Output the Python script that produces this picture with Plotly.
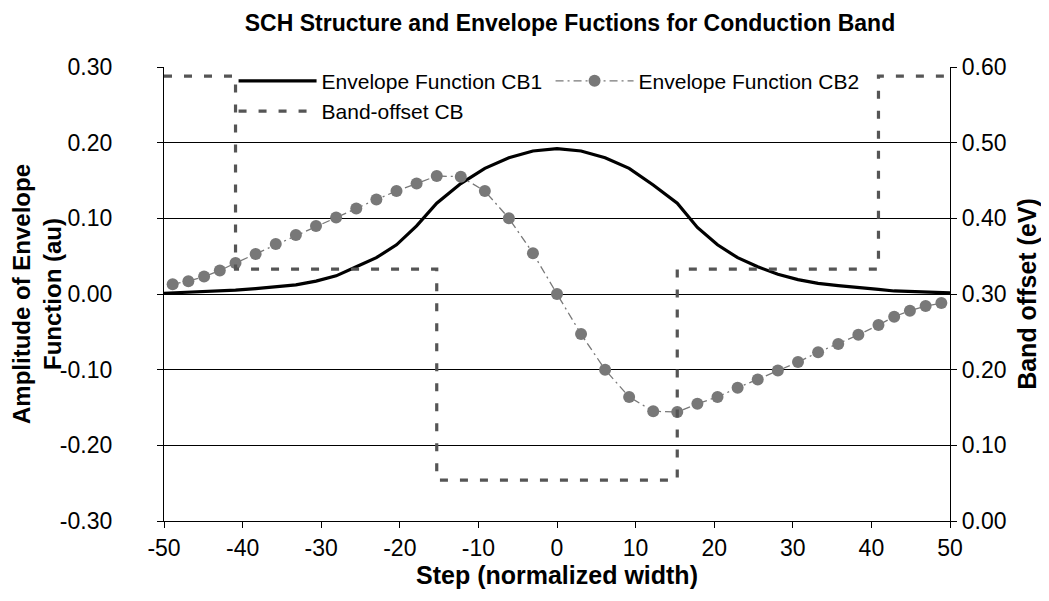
import plotly.graph_objects as go

# ---- data ----
step_x = [-48.9, -46.9, -44.9, -42.9, -40.9, -38.34, -35.78, -33.22, -30.66, -28.1,
          -25.54, -22.98, -20.42, -17.86, -15.3, -12.24, -9.18, -6.12, -3.06, 0.0,
          3.06, 6.12, 9.18, 12.24, 15.3, 17.86, 20.42, 22.98, 25.54, 28.1,
          30.66, 33.22, 35.78, 38.34, 40.9, 42.9, 44.9, 46.9, 48.9]

cb1_x = [-50.0] + step_x + [50.0]
cb1_y = [0.001, 0.0015, 0.002, 0.003, 0.004, 0.005, 0.007, 0.009, 0.012, 0.017, 0.024,
         0.036, 0.048, 0.065, 0.090, 0.120, 0.146, 0.166, 0.180, 0.189, 0.192,
         0.189, 0.180, 0.166, 0.144, 0.120, 0.088, 0.065, 0.048, 0.036, 0.026,
         0.019, 0.014, 0.011, 0.008, 0.006, 0.004, 0.0035, 0.0025, 0.002, 0.0015]

cb2_y = [0.013, 0.017, 0.023, 0.031, 0.041, 0.053, 0.066, 0.078, 0.090, 0.101,
         0.113, 0.125, 0.136, 0.146, 0.156, 0.155, 0.136, 0.100, 0.054, 0.000,
         -0.053, -0.100, -0.136, -0.155, -0.156, -0.145, -0.136, -0.124, -0.113, -0.101,
         -0.090, -0.077, -0.066, -0.054, -0.041, -0.030, -0.022, -0.016, -0.012]

band_x = [-50.0, -40.9, -15.3, 15.3, 40.9, 50.0]
band_eV = [0.588, 0.333, 0.054, 0.333, 0.588, 0.588]

x_ticks = [-50, -40, -30, -20, -10, 0, 10, 20, 30, 40, 50]
x_ticktext = ["-50", "-40", "-30", "-20", "-10", "0", "10", "20", "30", "40", "50"]
y_ticks = [-0.3, -0.2, -0.1, 0.0, 0.1, 0.2, 0.3]
y_ticktext = ["-0.30", "-0.20", "-0.10", "0.00", "0.10", "0.20", "0.30"]
y2_ticks = [0.0, 0.1, 0.2, 0.3, 0.4, 0.5, 0.6]
y2_ticktext = ["0.00", "0.10", "0.20", "0.30", "0.40", "0.50", "0.60"]

FONT = "Liberation Sans, Arial, sans-serif"

fig = go.Figure()
fig.add_trace(go.Scatter(
    x=cb1_x, y=cb1_y, name="Envelope Function CB1", mode="lines",
    line=dict(color="black", width=3.2),
))
fig.add_trace(go.Scatter(
    x=step_x, y=cb2_y, name="Envelope Function CB2", mode="lines+markers",
    line=dict(color="rgb(120,120,120)", width=1.3, dash="8px,4px,2px,4px"),
    marker=dict(color="rgb(120,120,120)", size=12),
))
fig.add_trace(go.Scatter(
    x=band_x, y=band_eV, name="Band-offset CB", mode="lines", yaxis="y2",
    line=dict(color="rgb(85,85,85)", width=3.2, dash="8px,12px", shape="hv"),
))

fig.update_layout(
    width=1049, height=601,
    margin=dict(l=156, r=107, t=59, b=88),
    paper_bgcolor="white", plot_bgcolor="white",
    font=dict(family=FONT, color="black", size=23),
    title=dict(text="<b>SCH Structure and Envelope Fuctions for Conduction Band</b>",
               x=562 / 1049, xanchor="center", y=0.975, yanchor="middle",
               font=dict(size=23, family=FONT)),
    showlegend=True,
    legend=dict(orientation="h", x=0.0885, y=1.014, xanchor="left", yanchor="top",
                bgcolor="rgba(0,0,0,0)", font=dict(size=21, family=FONT),
                entrywidth=224, entrywidthmode="pixels", tracegroupgap=0,
                itemwidth=78),
    xaxis=dict(range=[-50, 50], tickvals=x_ticks, ticktext=x_ticktext,
               showline=True, linecolor="black", linewidth=1.3, mirror=False,
               ticks="outside", ticklen=6, tickcolor="black", showgrid=False,
               zeroline=False, tickfont=dict(size=23), automargin=False,
               title=dict(text="<b>Step (normalized width)</b>", font=dict(size=25), standoff=2)),
    yaxis=dict(range=[-0.3, 0.3], tickvals=y_ticks, ticktext=y_ticktext,
               showline=True, linecolor="black", linewidth=1.3,
               ticks="outside", ticklen=6, tickcolor="black",
               showgrid=True, gridcolor="black", gridwidth=1, zeroline=False,
               tickfont=dict(size=23), ticklabelstandoff=40, automargin=False,
               title=dict(text="<b>Amplitude of Envelope<br>Function (au)</b>", font=dict(size=24), standoff=0)),
    yaxis2=dict(range=[0, 0.6], tickvals=y2_ticks, ticktext=y2_ticktext,
                overlaying="y", side="right",
                showline=True, linecolor="black", linewidth=1.3,
                ticks="outside", ticklen=6, tickcolor="black", automargin=False,
                showgrid=False, zeroline=False, tickfont=dict(size=23),
                title=dict(text="<b>Band offset (eV)</b>", font=dict(size=25), standoff=12)),
)

fig.write_html("out.html")
